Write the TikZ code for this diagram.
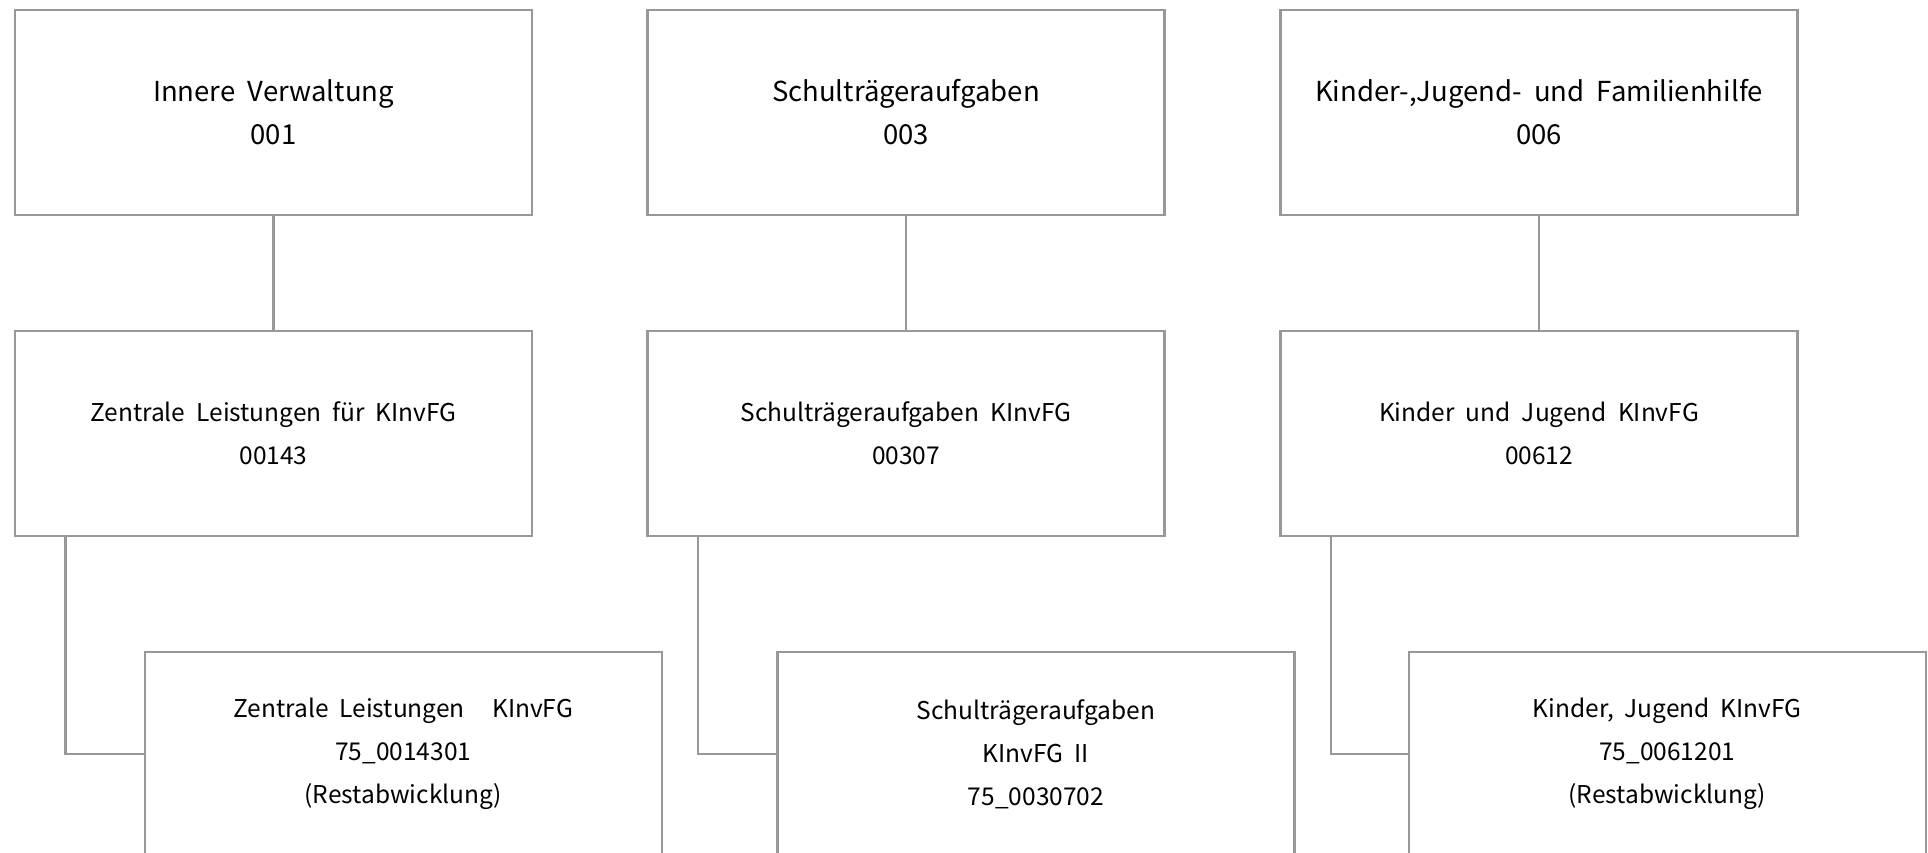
\documentclass[tikz,border=0pt]{standalone}
\usepackage{fontspec}
\setmainfont{Noto Sans CJK KR}
\begin{document}
\begin{tikzpicture}[x=1pt,y=-1pt,
  box/.style={draw=boxgray, line width=2.4pt, minimum width=517pt, minimum height=205pt, align=center, inner sep=0pt},
  toptext/.style={font=\fontsize{27.5}{43}\selectfont},
  lowtext/.style={font=\fontsize{24.5}{43}\selectfont},
  conn/.style={draw=boxgray, line width=2.4pt}]
\definecolor{boxgray}{RGB}{152,152,152}
\useasboundingbox (0,0) rectangle (1928,853);
\clip (0,0) rectangle (1928,853);
% top row
\node[box,toptext] (t1) at (273.6,112.4) {Innere\ \ Verwaltung\\001};
\node[box,toptext] (t2) at (906,112.4) {Schulträgeraufgaben\\003};
\node[box,toptext] (t3) at (1539,112.4) {Kinder-,Jugend-\ \ und\ \ Familienhilfe\\006};
% middle row
\node[box,lowtext] (m1) at (273.6,433.4) {Zentrale\ \ Leistungen\ \ für\ \ KInvFG\\00143};
\node[box,lowtext] (m2) at (906,433.4) {Schulträgeraufgaben\ \ KInvFG\\00307};
\node[box,lowtext] (m3) at (1539,433.4) {Kinder\ \ und\ \ Jugend\ \ KInvFG\\00612};
% bottom row
\node[box,lowtext] (b1) at (403.3,754.2) {Zentrale\ \ Leistungen\ \ \ \ \ KInvFG\\75\_0014301\\(Restabwicklung)};
\node[box,lowtext] (b2) at (1036,754.2) {Schulträgeraufgaben\\KInvFG\ \ II\\75\_0030702};
\node[box,lowtext] (b3) at (1667.3,754.2) {Kinder,\ \ Jugend\ \ KInvFG\\75\_0061201\\(Restabwicklung)};
% connectors
\draw[conn] (t1.south) -- (m1.north);
\draw[conn] (t2.south) -- (m2.north);
\draw[conn] (t3.south) -- (m3.north);
\draw[conn] ([xshift=51.6pt]m1.south west) |- (b1.west);
\draw[conn] ([xshift=51.6pt]m2.south west) |- (b2.west);
\draw[conn] ([xshift=51.6pt]m3.south west) |- (b3.west);
\end{tikzpicture}
\end{document}
